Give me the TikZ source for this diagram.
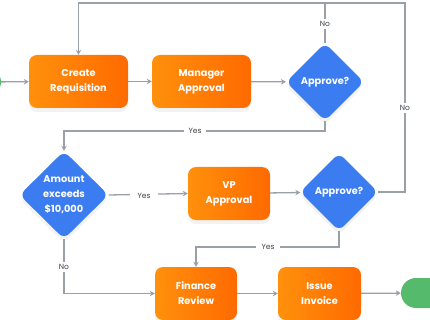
\documentclass[tikz,border=0pt]{standalone}
\usepackage{fontspec}
\setmainfont{Poppins}
\usepackage{xcolor}
\usetikzlibrary{shapes.geometric,arrows.meta,positioning,shadows,calc}
\definecolor{orA}{HTML}{FF900C}
\definecolor{orB}{HTML}{FF6A00}
\definecolor{blu}{HTML}{3B7CF1}
\definecolor{grn}{HTML}{55BA6B}
\definecolor{lin}{HTML}{9AA0A8}
\definecolor{lbl}{HTML}{3F4247}

\begin{document}
\begin{tikzpicture}[x=1pt,y=-1pt,
    every node/.style={font=\fontsize{9.8}{15}\selectfont\bfseries, text=white, align=center},
    box/.style={rectangle, rounded corners=8pt, left color=orA, right color=orB,
        minimum width=99pt, minimum height=53pt, inner sep=0pt,
        drop shadow={opacity=0.1, shadow xshift=0pt, shadow yshift=-4pt}},
    dec/.style={diamond, rounded corners=7pt, fill=blu, aspect=1, inner sep=0pt,
        minimum width=78pt, minimum height=78pt,
        drop shadow={opacity=0.1, shadow xshift=0pt, shadow yshift=-4pt}},
    term/.style={rectangle, rounded corners=15pt, fill=grn, minimum width=54pt, minimum height=30pt},
    lab/.style={font=\fontsize{7.5}{8}\selectfont, text=lbl, fill=white, inner sep=2pt},
    flow/.style={draw=lin, line width=1.3pt, -{Stealth[length=5pt,width=5.5pt]}},
    seg/.style={draw=lin, line width=1.3pt}]
    \useasboundingbox (0,0) rectangle (430,320);
    % start and end
    \node[term] (start) at (-26,82) {};
    \node[term] (stop) at (428,293) {};
    % first row
    \node[box] (create) at (78.5,81.5) {Create\\Requisition};
    \node[box] (manager) at (201.5,81.5) {Manager\\Approval};
    \node[dec] (appr1) at (325,82) {Approve?};
    % second row
    \node[dec, minimum width=89pt, minimum height=88pt] (amount) at (64,195) {Amount\\exceeds\\\$10,000};
    \node[box, minimum width=82pt] (vp) at (229,193.5) {VP\\Approval};
    \node[dec] (appr2) at (339,192) {Approve?};
    % third row
    \node[box, minimum width=82pt] (finance) at (196,293.5) {Finance\\Review};
    \node[box, minimum width=83pt] (invoice) at (319.5,293.5) {Issue\\Invoice};
    % corners of the loops
    \coordinate (topline) at (405,3);
    \coordinate (yes1) at (325,131);
    \coordinate (yes2) at (339,247);
    % connectors
    \draw[flow] (start) -- (create);
    \draw[flow] (create) -- (manager);
    \draw[flow] (manager) -- (appr1);
    \draw[flow] (appr1.north) -- (appr1.north |- topline) -| (create.north);
    \draw[seg] (appr2.east) -| (topline) -- (appr1.north |- topline);
    \draw[flow] (appr1.south) -- (yes1) -| (amount.north);
    \draw[flow] (amount.east) -- (vp.west);
    \draw[flow] (vp) -- (appr2);
    \draw[flow] (appr2.south) -- (yes2) -| (finance.north);
    \draw[flow] (amount.south) |- (finance.west);
    \draw[flow] (finance) -- (invoice);
    \draw[flow] (invoice) -- (stop);
    % labels
    \node[lab] (no1) at (325,24) {No};
    \node[lab] (no2) at (405,108) {No};
    \node[lab, inner xsep=5pt] (y1) at (195,131) {Yes};
    \node[lab, inner xsep=8pt] (y2) at (144,196) {Yes};
    \node[lab, inner xsep=6pt] (y3) at (268,247) {Yes};
    \node[lab] (no3) at (64,267) {No};
\end{tikzpicture}
\end{document}
